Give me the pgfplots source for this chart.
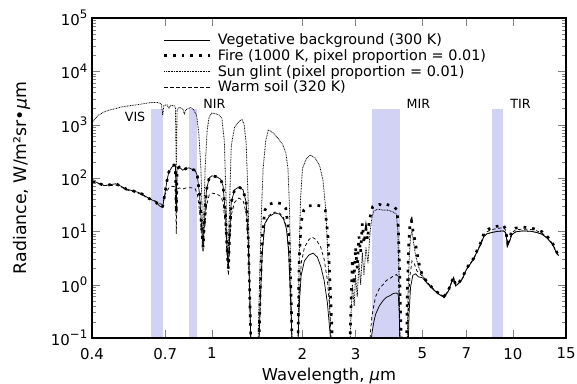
\documentclass[border=0pt]{standalone}
\usepackage{pgfplots}
\pgfplotsset{compat=1.18}
\usepackage{fontspec}
\setmainfont{DejaVu Sans}
\definecolor{band}{RGB}{210,210,244}
\newcommand{\sx}[1]{\raisebox{5pt}{\fontsize{8.8}{10}\selectfont #1}}
\begin{document}
\begin{tikzpicture}
\useasboundingbox (-69pt,-34.5pt) rectangle (363.75pt,253.5pt);
\begin{axis}[
  at={(0,0)}, anchor=south west,
  scale only axis, width=355.5pt, height=240pt,
  xmode=log, ymode=log,
  xmin=0.4, xmax=15, ymin=0.1, ymax=100000,
  xtick={0.4,0.7,1,2,3,5,7,10,15},
  xticklabels={0.4,0.7,1,2,3,5,7,10,15},
  xminorticks=false,
  ytick={0.1,1,10,100,1000,10000,100000},
  yticklabels={10\sx{−1},10\sx{0},10\sx{1},10\sx{2},10\sx{3},10\sx{4},10\sx{5}},
  tick label style={font=\fontsize{11.2}{13}\selectfont},
  xticklabel style={yshift=-4pt},
  axis on top,
  axis line style={line width=0.8pt},
  major tick length=6pt, minor tick length=3pt,
  xlabel={Wavelength, \textit{μ}m},
  ylabel={Radiance, W/m²sr•\textit{μ}m},
  every axis x label/.style={at={(axis description cs:0.5,-0.119)}, anchor=center, font=\fontsize{12.3}{15}\selectfont},
  every axis y label/.style={at={(axis description cs:-0.148,0.5)}, anchor=center, rotate=90, font=\fontsize{13}{15}\selectfont},
  legend cell align=left,
  legend style={draw=none, fill=none, at={(0.141,0.969)}, anchor=north west, font=\fontsize{10.8}{12}\selectfont, row sep=-1.85pt},
  legend image code/.code={\draw[#1] (0pt,0pt) -- (34pt,0pt); \path (37pt,0pt);},
]
\addplot[fill=band, draw=none, forget plot] coordinates {(0.63,0.1) (0.63,2000) (0.69,2000) (0.69,0.1)};
\addplot[fill=band, draw=none, forget plot] coordinates {(0.84,0.1) (0.84,2000) (0.89,2000) (0.89,0.1)};
\addplot[fill=band, draw=none, forget plot] coordinates {(3.4,0.1) (3.4,2000) (4.2,2000) (4.2,0.1)};
\addplot[fill=band, draw=none, forget plot] coordinates {(8.5,0.1) (8.5,2000) (9.3,2000) (9.3,0.1)};

% Vegetative background
\addplot[black, line width=0.55pt] coordinates {(0.40,90)(0.41,85)(0.42,80)(0.44,72)(0.46,75)(0.48,78)(0.50,70)(0.52,62)(0.55,57)(0.58,52)(0.60,46)(0.62,41)(0.65,36)(0.67,30)(0.685,28)(0.69,33)(0.70,55)(0.71,90)(0.72,130)(0.74,165)(0.75,175)(0.757,170)(0.762,22)(0.767,150)(0.78,160)(0.80,140)(0.82,150)(0.84,155)(0.86,145)(0.88,140)(0.895,110)(0.91,50)(0.925,12)(0.935,5)(0.945,15)(0.96,60)(0.98,100)(1.0,110)(1.04,105)(1.07,95)(1.09,70)(1.11,20)(1.125,4)(1.135,2)(1.145,8)(1.16,35)(1.19,60)(1.23,68)(1.27,60)(1.30,35)(1.32,8)(1.335,0.8)(1.35,0.05)(1.43,0.05)(1.45,0.6)(1.47,4)(1.50,14)(1.55,19)(1.62,22)(1.68,21)(1.73,17)(1.77,11)(1.80,4)(1.83,0.4)(1.85,0.05)(1.93,0.05)(1.95,0.4)(1.98,1.5)(2.03,2.8)(2.1,3.6)(2.17,3.9)(2.24,3.3)(2.3,2.2)(2.36,1.2)(2.42,0.45)(2.47,0.12)(2.5,0.05)(3.35,0.05)(3.4,0.12)(3.45,0.2)(3.5,0.28)(3.6,0.4)(3.7,0.5)(3.8,0.58)(3.9,0.62)(4.0,0.68)(4.1,0.7)(4.16,0.65)(4.19,0.3)(4.22,0.05)(4.48,0.05)(4.52,0.3)(4.57,0.9)(4.65,1.5)(4.75,1.6)(4.85,1.4)(5.0,1.35)(5.2,1.05)(5.45,0.8)(5.7,0.65)(5.9,0.58)(6.1,0.75)(6.25,1.1)(6.35,1.35)(6.45,0.95)(6.6,1.05)(6.8,1.3)(7.0,1.9)(7.2,2.4)(7.4,3.0)(7.6,4.2)(7.8,5.5)(8.0,8)(8.2,9)(8.5,9.5)(8.9,10)(9.3,10.2)(9.45,9.5)(9.6,5.5)(9.75,6.5)(9.9,8.5)(10.2,9.8)(10.8,10.2)(11.5,10)(12.0,9.5)(12.5,8.8)(13.0,7.4)(13.5,5.8)(14.0,3.8)(14.2,3.5)};
\addlegendentry{Vegetative background (300 K)}

% Fire
\addplot[black, line width=2pt, dash pattern=on 2pt off 4.5pt] coordinates {(0.40,90)(0.41,85)(0.42,80)(0.44,72)(0.46,75)(0.48,78)(0.50,70)(0.52,62)(0.55,57)(0.58,52)(0.60,46)(0.62,41)(0.65,36)(0.67,30)(0.685,28)(0.69,33)(0.70,55)(0.71,90)(0.72,130)(0.74,165)(0.75,175)(0.757,170)(0.762,22)(0.767,150)(0.78,160)(0.80,140)(0.82,150)(0.84,155)(0.86,145)(0.88,140)(0.895,110)(0.91,50)(0.925,12)(0.935,5)(0.945,15)(0.96,60)(0.98,100)(1.0,110)(1.04,105)(1.07,95)(1.09,70)(1.11,20)(1.125,4)(1.135,2)(1.145,8)(1.16,35)(1.19,60)(1.23,68)(1.27,60)(1.30,35)(1.32,8)(1.335,0.8)(1.35,0.05)(1.43,0.05)(1.45,1)(1.47,8)(1.50,25)(1.55,32)(1.62,35)(1.70,33)(1.76,27)(1.80,10)(1.83,1)(1.85,0.05)(1.93,0.05)(1.95,3)(1.98,15)(2.02,25)(2.1,30)(2.2,31)(2.3,30)(2.38,25)(2.43,8)(2.47,1)(2.5,0.2)(2.52,0.05)(2.87,0.05)(2.9,0.5)(2.93,3)(2.96,1)(3.0,5)(3.04,2)(3.08,8)(3.12,4)(3.16,14)(3.2,6)(3.25,11)(3.29,7)(3.33,16)(3.38,22)(3.42,29)(3.5,31)(3.6,32)(3.7,30)(3.8,32)(3.95,30)(4.05,28)(4.12,25)(4.16,12)(4.2,2)(4.24,0.2)(4.27,0.05)(4.43,0.05)(4.46,0.8)(4.5,5)(4.55,14)(4.6,16)(4.66,10)(4.72,7)(4.8,4)(4.9,2.2)(5.0,1.5)(5.2,1.1)(5.45,0.82)(5.7,0.67)(5.9,0.6)(6.1,0.78)(6.25,1.12)(6.35,1.38)(6.45,0.98)(6.6,1.08)(6.8,1.35)(7.0,2)(7.2,2.5)(7.4,3.1)(7.6,4.4)(7.8,6)(8.0,9)(8.2,10.5)(8.5,12)(8.9,12.5)(9.3,13)(9.45,11)(9.6,6)(9.75,7.5)(9.9,10)(10.2,11.5)(10.8,12)(11.5,11.5)(12.0,10.8)(12.5,9.8)(13.0,8)(13.5,6.2)(14.0,4)(14.2,3.6)};
\addlegendentry{Fire (1000 K, pixel proportion = 0.01)}

% Sun glint
\addplot[black, line width=0.6pt, dash pattern=on 0.6pt off 0.6pt] coordinates {(0.40,1100)(0.41,1300)(0.42,1500)(0.44,1750)(0.46,1900)(0.48,2000)(0.50,2150)(0.53,2250)(0.56,2350)(0.60,2500)(0.63,2600)(0.66,2600)(0.68,2450)(0.687,1500)(0.693,2300)(0.71,2350)(0.72,2000)(0.73,2300)(0.75,2250)(0.757,2100)(0.762,150)(0.767,1900)(0.78,2100)(0.80,2000)(0.81,1600)(0.82,1900)(0.85,2100)(0.87,1900)(0.89,1500)(0.905,700)(0.92,150)(0.935,6)(0.95,150)(0.965,800)(0.98,1400)(1.0,1650)(1.03,1600)(1.06,1500)(1.08,1300)(1.10,500)(1.115,40)(1.13,2)(1.145,30)(1.16,400)(1.19,900)(1.23,1150)(1.26,1250)(1.28,1000)(1.30,450)(1.32,40)(1.335,1)(1.35,0.05)(1.42,0.05)(1.44,1)(1.46,20)(1.48,150)(1.51,500)(1.54,800)(1.6,700)(1.66,550)(1.72,420)(1.76,300)(1.79,150)(1.81,30)(1.83,1)(1.85,0.05)(1.93,0.05)(1.95,3)(1.97,40)(2.0,150)(2.06,230)(2.12,270)(2.2,240)(2.28,170)(2.34,90)(2.39,25)(2.44,2)(2.48,0.1)(2.5,0.05)(2.87,0.05)(2.9,0.3)(2.93,1)(2.97,0.4)(3.0,1.5)(3.04,0.6)(3.08,2.5)(3.12,1)(3.16,4)(3.2,1.5)(3.25,5)(3.3,2.5)(3.35,9)(3.4,18)(3.45,24)(3.55,26)(3.7,25)(3.85,25)(4.0,23)(4.1,21)(4.15,10)(4.19,1)(4.22,0.05)(4.45,0.05)(4.48,0.6)(4.52,3)(4.57,8)(4.62,10)(4.68,6)(4.75,3.5)(4.85,2.2)(5.0,1.5)(5.2,1.05)(5.45,0.8)(5.7,0.65)(5.9,0.58)(6.1,0.75)(6.25,1.1)(6.35,1.35)(6.45,0.95)(6.6,1.05)(6.8,1.3)(7.0,1.9)(7.2,2.4)(7.4,3.0)(7.6,4.2)(7.8,5.5)(8.0,8)(8.2,9)(8.5,9.5)(8.9,10)(9.3,10.2)(9.45,9.5)(9.6,5.5)(9.75,6.5)(9.9,8.5)(10.2,9.8)(10.8,10.2)(11.5,10)(12.0,9.5)(12.5,8.8)(13.0,7.4)(13.5,5.8)(14.0,3.8)(14.2,3.5)};
\addlegendentry{Sun glint (pixel proportion = 0.01)}

% Warm soil
\addplot[black, line width=0.55pt, dash pattern=on 2.5pt off 2pt] coordinates {(0.40,85)(0.42,78)(0.44,72)(0.46,72)(0.48,74)(0.50,68)(0.52,60)(0.55,55)(0.58,50)(0.60,45)(0.62,41)(0.65,37)(0.67,33)(0.685,32)(0.69,36)(0.70,50)(0.72,65)(0.74,70)(0.757,68)(0.762,9)(0.767,62)(0.78,65)(0.80,62)(0.82,65)(0.85,66)(0.88,63)(0.895,50)(0.91,25)(0.925,8)(0.935,4)(0.945,10)(0.96,30)(0.98,48)(1.0,52)(1.04,50)(1.07,45)(1.09,35)(1.11,12)(1.125,3)(1.135,1.5)(1.145,5)(1.16,20)(1.19,35)(1.23,42)(1.27,38)(1.30,22)(1.32,6)(1.335,0.6)(1.35,0.05)(1.43,0.05)(1.45,0.5)(1.47,4)(1.50,14)(1.55,20)(1.62,23)(1.68,22)(1.73,18)(1.77,12)(1.80,4.5)(1.83,0.4)(1.85,0.05)(1.93,0.05)(1.95,0.5)(1.98,2.5)(2.03,5)(2.1,7)(2.15,7.8)(2.22,7)(2.3,5)(2.36,3)(2.42,1.2)(2.47,0.3)(2.5,0.05)(3.33,0.05)(3.36,0.12)(3.4,0.25)(3.45,0.4)(3.5,0.6)(3.6,0.85)(3.7,1.0)(3.8,1.2)(3.9,1.3)(4.0,1.45)(4.1,1.55)(4.16,1.4)(4.19,0.5)(4.22,0.05)(4.47,0.05)(4.5,0.5)(4.55,1.5)(4.62,2.8)(4.7,2.5)(4.8,1.8)(5.0,1.45)(5.2,1.1)(5.45,0.83)(5.7,0.67)(5.9,0.6)(6.1,0.77)(6.25,1.12)(6.35,1.37)(6.45,0.97)(6.6,1.07)(6.8,1.33)(7.0,1.95)(7.2,2.45)(7.4,3.1)(7.6,4.3)(7.8,5.8)(8.0,8.6)(8.2,9.8)(8.5,10.8)(8.9,11.3)(9.3,11.8)(9.45,10.5)(9.6,5.8)(9.75,7)(9.9,9.3)(10.2,10.7)(10.8,11)(11.5,10.8)(12.0,10.2)(12.5,9.2)(13.0,7.7)(13.5,6)(14.0,3.9)(14.2,3.5)};
\addlegendentry{Warm soil (320 K)}

\node[font=\fontsize{9.5}{11}\selectfont] at (axis cs:0.556,1380) {VIS};
\node[font=\fontsize{9.5}{11}\selectfont] at (axis cs:1.02,2460) {NIR};
\node[font=\fontsize{9.5}{11}\selectfont] at (axis cs:4.85,2460) {MIR};
\node[font=\fontsize{9.5}{11}\selectfont] at (axis cs:10.6,2460) {TIR};
\end{axis}
\end{tikzpicture}
\end{document}
